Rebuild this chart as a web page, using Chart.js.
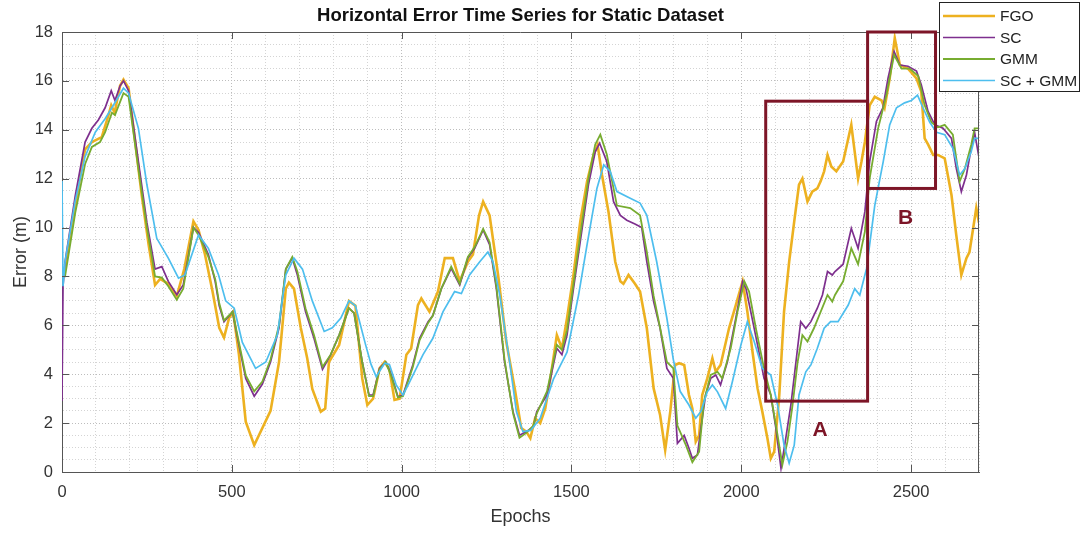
<!DOCTYPE html>
<html>
<head>
<meta charset="utf-8">
<title>Horizontal Error Time Series</title>
<script src="https://cdn.jsdelivr.net/npm/chart.js@4.4.0/dist/chart.umd.min.js"></script>
<style>
  body { margin: 0; background: #fff; }
  #wrap { width: 1081px; height: 533px; }
</style>
</head>
<body>
<div id="wrap"><canvas id="errChart" width="1081" height="533"></canvas></div>
<script>
// horizontal error (m) per epoch, one pair of arrays per method
const fgoEpochs = [0, 9, 39, 68, 88, 117, 137, 145, 155, 171, 181, 196, 235, 255, 274, 289, 313, 338, 360, 387, 402, 421, 443, 463, 477, 492, 504, 521, 541, 566, 590, 614, 639, 659, 668, 683, 703, 722, 737, 762, 775, 786, 816, 845, 864, 884, 899, 916, 935, 950, 964, 979, 994, 1014, 1028, 1048, 1058, 1082, 1107, 1127, 1151, 1171, 1195, 1210, 1228, 1240, 1259, 1284, 1308, 1333, 1352, 1367, 1379, 1393, 1408, 1423, 1438, 1457, 1472, 1487, 1506, 1526, 1546, 1565, 1577, 1590, 1609, 1629, 1644, 1653, 1668, 1687, 1702, 1722, 1742, 1761, 1776, 1791, 1805, 1817, 1832, 1846, 1856, 1866, 1876, 1885, 1900, 1915, 1925, 1939, 1964, 1984, 2004, 2018, 2033, 2048, 2062, 2077, 2087, 2097, 2112, 2126, 2141, 2156, 2170, 2180, 2195, 2209, 2224, 2234, 2244, 2254, 2265, 2280, 2300, 2324, 2344, 2354, 2364, 2378, 2393, 2413, 2422, 2437, 2452, 2467, 2491, 2516, 2530, 2540, 2550, 2565, 2579, 2599, 2619, 2633, 2648, 2663, 2672, 2692, 2700];
const fgoError = [8.0, 8.3, 10.9, 13.2, 13.5, 13.7, 14.6, 15.0, 14.7, 15.8, 16.05, 15.7, 11.3, 9.3, 7.65, 7.9, 7.7, 7.2, 8.3, 10.25, 9.9, 8.9, 7.4, 5.9, 5.5, 6.3, 6.55, 4.8, 2.06, 1.1, 1.8, 2.5, 4.5, 7.5, 7.75, 7.5, 5.9, 4.65, 3.4, 2.47, 2.6, 4.5, 5.2, 7.0, 6.8, 3.83, 2.74, 3.0, 4.24, 4.5, 4.2, 2.95, 3.0, 4.8, 5.05, 6.83, 7.1, 6.56, 7.38, 8.75, 8.75, 7.8, 8.6, 8.9, 10.5, 11.06, 10.5, 8.06, 5.34, 3.42, 1.8, 1.65, 1.38, 2.2, 2.0, 2.6, 3.83, 5.6, 5.06, 6.29, 8.06, 10.25, 11.88, 12.97, 13.38, 12.15, 10.65, 8.6, 7.8, 7.7, 8.06, 7.7, 7.38, 5.88, 3.42, 2.33, 0.9, 2.47, 4.38, 4.45, 4.38, 3.15, 2.6, 1.24, 1.5, 3.15, 3.83, 4.65, 4.1, 4.38, 5.88, 6.83, 7.8, 6.56, 4.93, 3.42, 2.47, 1.38, 0.56, 0.83, 3.15, 6.56, 8.6, 10.25, 11.75, 12.0, 11.06, 11.47, 11.6, 11.9, 12.3, 12.97, 12.5, 12.3, 12.7, 14.2, 12.0, 12.7, 13.5, 15.0, 15.35, 15.2, 14.9, 16.1, 17.75, 16.65, 16.5, 16.1, 15.56, 13.65, 13.4, 12.97, 12.97, 12.83, 11.33, 9.7, 8.06, 8.75, 9.0, 10.8, 10.2];

const scEpochs = [0, 3, 9, 39, 68, 88, 107, 127, 145, 156, 171, 181, 196, 225, 250, 274, 294, 313, 338, 357, 387, 402, 431, 451, 463, 477, 502, 521, 541, 566, 590, 614, 639, 659, 678, 693, 717, 742, 767, 791, 816, 845, 860, 884, 904, 916, 935, 953, 970, 989, 1004, 1033, 1053, 1078, 1092, 1117, 1146, 1171, 1195, 1215, 1240, 1259, 1279, 1303, 1328, 1347, 1367, 1388, 1398, 1428, 1457, 1472, 1487, 1506, 1526, 1550, 1570, 1583, 1604, 1624, 1644, 1663, 1687, 1707, 1722, 1742, 1761, 1781, 1800, 1812, 1832, 1846, 1856, 1871, 1881, 1895, 1910, 1925, 1939, 1959, 1984, 2004, 2014, 2028, 2048, 2067, 2087, 2102, 2117, 2131, 2146, 2161, 2175, 2190, 2205, 2224, 2239, 2254, 2268, 2276, 2300, 2324, 2344, 2364, 2378, 2398, 2417, 2432, 2450, 2467, 2491, 2516, 2530, 2550, 2570, 2594, 2619, 2633, 2648, 2663, 2677, 2687, 2697, 2700];
const scError = [2.9, 7.6, 8.6, 11.3, 13.5, 14.06, 14.4, 14.9, 15.6, 15.2, 15.8, 16.0, 15.6, 12.7, 10.2, 8.3, 8.4, 7.8, 7.25, 7.65, 10.0, 9.8, 8.9, 7.8, 6.8, 6.15, 6.55, 5.2, 3.83, 3.1, 3.6, 4.5, 5.9, 8.3, 8.75, 8.06, 6.56, 5.47, 4.2, 4.79, 5.6, 6.7, 6.5, 4.5, 3.15, 3.15, 4.24, 4.5, 3.97, 3.08, 3.15, 4.38, 5.47, 6.15, 6.4, 7.5, 8.33, 7.65, 8.75, 9.15, 9.9, 9.3, 7.5, 4.5, 2.47, 1.5, 1.65, 1.85, 2.47, 3.15, 5.06, 4.8, 5.6, 7.5, 9.43, 11.75, 13.1, 13.45, 12.7, 11.06, 10.5, 10.3, 10.15, 10.0, 8.6, 6.97, 5.88, 4.24, 3.83, 1.17, 1.5, 0.97, 0.56, 0.7, 1.78, 3.15, 3.83, 3.97, 3.56, 4.5, 6.29, 7.8, 7.5, 6.56, 5.2, 3.83, 3.15, 1.78, 0.15, 1.38, 2.74, 4.5, 6.15, 5.88, 6.15, 6.7, 7.24, 8.2, 8.06, 8.2, 8.5, 9.97, 9.15, 10.65, 12.7, 14.34, 14.9, 16.1, 17.2, 16.65, 16.6, 16.4, 15.84, 14.75, 14.2, 14.06, 13.65, 12.43, 11.47, 12.15, 13.24, 13.9, 13.1, 13.3];

const gmmEpochs = [0, 9, 39, 68, 88, 112, 127, 147, 156, 181, 196, 225, 250, 274, 294, 313, 338, 357, 387, 402, 431, 451, 463, 477, 502, 521, 541, 566, 590, 614, 639, 659, 678, 693, 717, 742, 767, 791, 816, 845, 860, 884, 904, 916, 935, 953, 970, 989, 1004, 1033, 1053, 1078, 1092, 1117, 1146, 1171, 1195, 1215, 1240, 1259, 1279, 1303, 1328, 1347, 1367, 1388, 1398, 1428, 1457, 1472, 1487, 1506, 1526, 1550, 1570, 1585, 1604, 1634, 1673, 1702, 1722, 1742, 1761, 1781, 1800, 1812, 1837, 1856, 1876, 1890, 1910, 1930, 1944, 1969, 1989, 2009, 2023, 2043, 2067, 2087, 2107, 2121, 2136, 2151, 2166, 2180, 2195, 2214, 2234, 2254, 2268, 2276, 2300, 2324, 2344, 2364, 2378, 2403, 2427, 2450, 2472, 2496, 2521, 2540, 2560, 2579, 2599, 2623, 2643, 2658, 2677, 2687, 2700];
const gmmError = [8.0, 8.0, 10.6, 12.6, 13.3, 13.5, 13.9, 14.7, 14.6, 15.5, 15.35, 12.4, 10.0, 8.0, 7.95, 7.6, 7.05, 7.5, 10.0, 9.7, 8.8, 7.9, 6.9, 6.2, 6.55, 5.3, 3.95, 3.3, 3.7, 4.6, 6.0, 8.3, 8.8, 8.2, 6.7, 5.6, 4.3, 4.8, 5.6, 6.7, 6.5, 4.5, 3.1, 3.1, 4.2, 4.5, 3.9, 3.05, 3.1, 4.3, 5.4, 6.1, 6.4, 7.5, 8.4, 7.7, 8.8, 9.2, 9.95, 9.4, 7.6, 4.6, 2.4, 1.4, 1.6, 1.9, 2.4, 3.3, 5.2, 5.0, 5.8, 7.7, 9.7, 12.0, 13.4, 13.8, 13.0, 10.9, 10.8, 10.5, 9.0, 7.2, 5.9, 4.5, 4.24, 1.9, 1.1, 0.4, 0.83, 2.88, 3.97, 4.1, 3.83, 5.06, 6.56, 7.8, 7.38, 5.88, 4.24, 3.15, 1.5, 0.29, 1.24, 2.74, 4.5, 5.6, 5.34, 5.88, 6.56, 7.24, 6.97, 7.24, 7.8, 9.15, 8.5, 9.83, 12.0, 14.06, 15.4, 17.06, 16.5, 16.5, 16.2, 15.0, 14.3, 14.1, 14.2, 13.8, 11.88, 12.4, 13.38, 14.06, 14.06];

const scGmmEpochs = [0, 3, 9, 39, 68, 98, 127, 147, 181, 196, 225, 250, 279, 313, 343, 362, 402, 431, 461, 482, 507, 531, 570, 600, 634, 659, 683, 708, 737, 772, 796, 821, 845, 864, 894, 910, 925, 950, 964, 984, 1004, 1024, 1063, 1092, 1122, 1156, 1176, 1200, 1230, 1254, 1269, 1289, 1318, 1338, 1357, 1380, 1408, 1447, 1467, 1487, 1521, 1546, 1575, 1595, 1614, 1634, 1673, 1702, 1722, 1751, 1781, 1800, 1820, 1846, 1866, 1881, 1900, 1915, 1930, 1954, 1974, 1999, 2018, 2038, 2062, 2087, 2107, 2126, 2141, 2156, 2170, 2190, 2205, 2224, 2244, 2263, 2285, 2315, 2334, 2349, 2369, 2393, 2418, 2437, 2457, 2481, 2501, 2519, 2535, 2555, 2575, 2599, 2623, 2643, 2658, 2677, 2687, 2700];
const scGmmError = [11.9, 7.6, 8.6, 11.1, 12.9, 13.9, 14.45, 14.9, 15.7, 15.5, 14.06, 11.75, 9.56, 8.75, 7.93, 8.06, 9.7, 9.15, 8.06, 7.0, 6.7, 5.3, 4.24, 4.5, 5.6, 8.06, 8.75, 8.3, 7.0, 5.75, 5.9, 6.3, 7.0, 6.8, 5.2, 4.4, 3.9, 4.45, 4.4, 3.56, 3.15, 3.7, 4.8, 5.47, 6.56, 7.38, 7.3, 8.06, 8.6, 9.0, 8.6, 7.24, 4.5, 2.47, 1.65, 1.7, 2.2, 3.8, 4.35, 4.9, 7.24, 9.3, 11.6, 12.56, 12.3, 11.47, 11.2, 11.0, 10.5, 8.6, 6.29, 4.6, 3.3, 2.74, 2.2, 2.47, 3.28, 3.56, 3.28, 2.6, 3.7, 5.2, 6.15, 5.34, 4.24, 3.97, 2.74, 1.1, 0.36, 1.1, 3.15, 4.1, 4.38, 5.06, 5.88, 6.15, 6.15, 6.83, 7.5, 7.24, 8.33, 10.9, 12.7, 14.2, 14.9, 15.1, 15.2, 15.42, 14.9, 14.3, 13.9, 13.8, 13.24, 12.15, 12.4, 13.1, 13.65, 13.65];

// highlighted regions, in epochs / metres
const regions = [
  { name: 'A', from: 2072, to: 2372, low: 2.9, high: 15.17, tagX: 2232, tagY: 1.7 },
  { name: 'B', from: 2372, to: 2572, low: 11.6, high: 18, tagX: 2484, tagY: 10.4 }
];

const FONT = 'Liberation Sans, Arial, Helvetica, sans-serif';
const INK = '#333333';
const AXIS = '#555555';
const BOX_RED = '#7d1527';

function toPoints(xs, ys) {
  return xs.map((e, i) => ({ x: e, y: ys[i] }));
}

function line(label, xs, ys, color, width, order) {
  return {
    label: label,
    data: toPoints(xs, ys),
    borderColor: color,
    backgroundColor: color,
    borderWidth: width,
    pointRadius: 0,
    tension: 0,
    order: order
  };
}

// box, inward ticks, region boxes, title and legend
const decorations = {
  id: 'decorations',
  afterDatasetsDraw(chart) {
    const ctx = chart.ctx;
    const a = chart.chartArea;
    const xs = chart.scales.x, ys = chart.scales.y;
    ctx.save();

    ctx.strokeStyle = AXIS;
    ctx.lineWidth = 1;
    ctx.beginPath();
    ctx.moveTo(a.left, Math.round(a.top) + 0.5);
    ctx.lineTo(a.right, Math.round(a.top) + 0.5);
    ctx.moveTo(Math.round(a.right) - 0.5, a.top);
    ctx.lineTo(Math.round(a.right) - 0.5, a.bottom);
    for (let e = 500; e < 2700; e += 500) {
      const px = Math.round(xs.getPixelForValue(e)) + 0.5;
      ctx.moveTo(px, a.bottom); ctx.lineTo(px, a.bottom - 7);
      ctx.moveTo(px, a.top); ctx.lineTo(px, a.top + 7);
    }
    for (let v = 2; v < 18; v += 2) {
      const py = Math.round(ys.getPixelForValue(v)) + 0.5;
      ctx.moveTo(a.left, py); ctx.lineTo(a.left + 7, py);
      ctx.moveTo(a.right, py); ctx.lineTo(a.right - 7, py);
    }
    ctx.stroke();

    ctx.strokeStyle = BOX_RED;
    ctx.fillStyle = BOX_RED;
    ctx.lineWidth = 3;
    ctx.font = 'bold 21px ' + FONT;
    ctx.textAlign = 'center';
    ctx.textBaseline = 'middle';
    for (const r of regions) {
      const x0 = xs.getPixelForValue(r.from), x1 = xs.getPixelForValue(r.to);
      const y0 = ys.getPixelForValue(r.high), y1 = ys.getPixelForValue(r.low);
      ctx.strokeRect(x0, y0, x1 - x0, y1 - y0);
      ctx.fillText(r.name, xs.getPixelForValue(r.tagX), ys.getPixelForValue(r.tagY));
    }
    ctx.restore();
  },
  afterDraw(chart) {
    const ctx = chart.ctx;
    const a = chart.chartArea;
    ctx.save();
    ctx.fillStyle = '#111';
    ctx.font = 'bold 18.5px ' + FONT;
    ctx.textAlign = 'center';
    ctx.textBaseline = 'middle';
    ctx.fillText('Horizontal Error Time Series for Static Dataset', (a.left + a.right) / 2, 16);

    // legend
    ctx.fillStyle = '#fff';
    ctx.fillRect(939.5, 2.5, 140, 89);
    ctx.strokeStyle = '#222';
    ctx.lineWidth = 1;
    ctx.strokeRect(939.5, 2.5, 140, 89);
    ctx.font = '15.5px ' + FONT;
    ctx.textAlign = 'left';
    chart.data.datasets.forEach((ds, i) => {
      const y = 16 + i * 21.5;
      ctx.strokeStyle = ds.borderColor;
      ctx.lineWidth = ds.borderWidth;
      ctx.beginPath();
      ctx.moveTo(943, y); ctx.lineTo(995, y);
      ctx.stroke();
      ctx.fillStyle = '#222';
      ctx.fillText(ds.label, 1000, y + 1);
    });
    ctx.restore();
  }
};

const config = {
  type: 'line',
  data: {
    datasets: [
      line('FGO', fgoEpochs, fgoError, '#EDB120', 2.6, 4),
      line('SC', scEpochs, scError, '#7E2F8E', 1.7, 3),
      line('GMM', gmmEpochs, gmmError, '#77AC30', 1.8, 2),
      line('SC + GMM', scGmmEpochs, scGmmError, '#4DBEEE', 1.7, 1)
    ]
  },
  options: {
    responsive: false,
    animation: false,
    layout: { padding: { top: 32, right: 102, left: 0, bottom: 0 } },
    plugins: {
      legend: { display: false },
      title: { display: false },
      tooltip: { enabled: false }
    },
    scales: {
      x: {
        type: 'linear',
        min: 0,
        max: 2700,
        afterFit: (s) => { s.height = 61; },
        ticks: {
          stepSize: 100,
          autoSkip: false,
          maxRotation: 0,
          padding: 11,
          color: INK,
          font: { family: FONT, size: 16.5 },
          callback: (v) => (v % 500 === 0 ? v : '')
        },
        grid: {
          drawTicks: false,
          color: (c) => (c.tick && c.tick.value % 500 === 0 ? '#bdbdbd' : '#d4d4d4')
        },
        border: { display: true, color: AXIS, width: 1, dash: [1, 2] },
        title: {
          display: true,
          text: 'Epochs',
          color: INK,
          font: { family: FONT, size: 18 },
          padding: { top: 0, bottom: 5 }
        }
      },
      y: {
        min: 0,
        max: 18,
        afterFit: (s) => { s.width = 62; },
        ticks: {
          stepSize: 0.5,
          autoSkip: false,
          padding: 9,
          color: INK,
          font: { family: FONT, size: 16.5 },
          callback: (v) => (v % 2 === 0 ? v : '')
        },
        grid: {
          drawTicks: false,
          color: (c) => (c.tick && c.tick.value % 2 === 0 ? '#bdbdbd' : '#d4d4d4')
        },
        border: { display: true, color: AXIS, width: 1, dash: [1, 2] },
        title: {
          display: true,
          text: 'Error (m)',
          color: INK,
          font: { family: FONT, size: 18 },
          padding: { top: 10, bottom: 0 }
        }
      }
    }
  },
  plugins: [decorations]
};

var errChart = new Chart(document.getElementById('errChart'), config);
</script>
</body>
</html>
